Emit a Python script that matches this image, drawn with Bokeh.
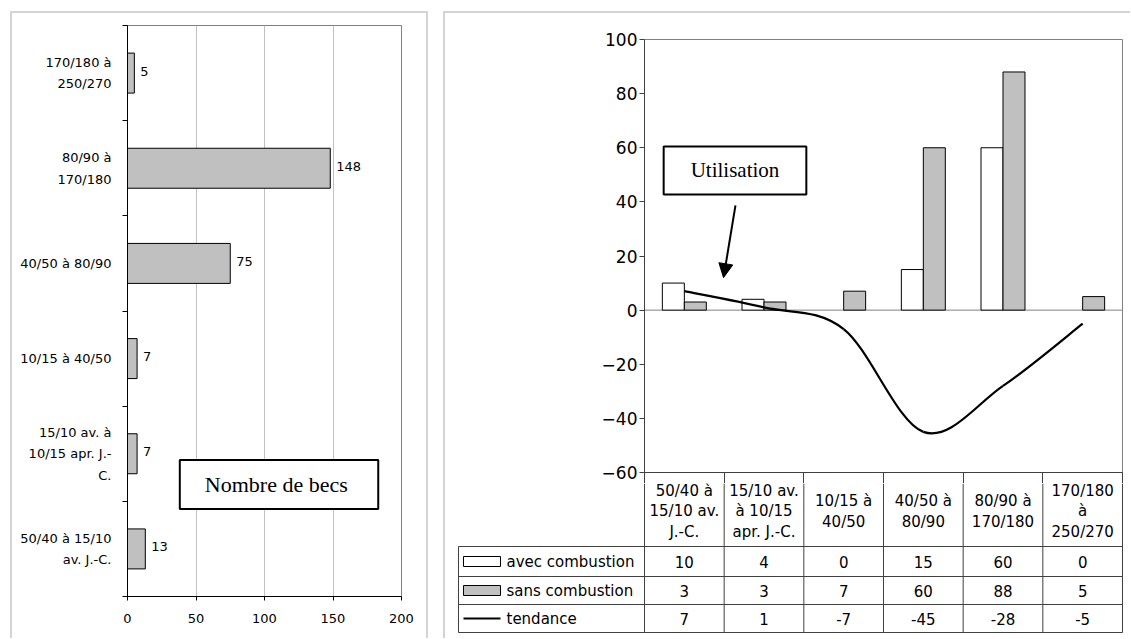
from bokeh.plotting import figure
from bokeh.models import (Range1d, FixedTicker, ColumnDataSource, Label, Arrow,
                          NormalHead, Span, CDSView, BooleanFilter, Div, Spacer)
from bokeh.layouts import row, column
from bokeh.transform import dodge
from bokeh.core.properties import value
from bokeh.embed import file_html
from bokeh.resources import INLINE

# ---------------- data ----------------
periods = ["50/40 à 15/10 av. J.-C.", "15/10 av. à 10/15 apr. J.-C.", "10/15 à 40/50",
           "40/50 à 80/90", "80/90 à 170/180", "170/180 à 250/270"]
left_labels = ["50/40 à 15/10\nav. J.-C.", "15/10 av. à\n10/15 apr. J.-\nC.", "10/15 à 40/50",
               "40/50 à 80/90", "80/90 à\n170/180", "170/180 à\n250/270"]
table_headers = ["50/40 à\n15/10 av.\nJ.-C.", "15/10 av.\nà 10/15\napr. J.-C.", "10/15 à\n40/50",
                 "40/50 à\n80/90", "80/90 à\n170/180", "170/180\nà\n250/270"]
nombre_becs = [13, 7, 7, 75, 148, 5]
avec = [10, 4, 0, 15, 60, 0]
sans = [3, 3, 7, 60, 88, 5]
tendance = [7, 1, -7, -45, -28, -5]
left_ticks = [0, 50, 100, 150, 200]
right_ticks = [-60, -40, -20, 0, 20, 40, 60, 80, 100]
row_names = ["avec combustion", "sans combustion", "tendance"]

SANS = "DejaVu Sans"
SERIF = "Liberation Serif"
GRAYBAR = "#c0c0c0"
PANEL = "#d4d4d4"
LINE = "#404040"

n = len(periods)
pos = [i + 0.5 for i in range(n)]

# ---------------- left panel ----------------
left = figure(width=414, height=625, x_range=Range1d(0, 200), y_range=Range1d(0, n),
              output_backend="svg", toolbar_location=None,
              min_border_left=115, min_border_right=25, min_border_top=12, min_border_bottom=42)
left.background_fill_color = "white"
left.border_fill_color = "white"
left.outline_line_color = "#808080"
left.ygrid.visible = False
left.xgrid.grid_line_color = "#c0c0c0"

lsrc = ColumnDataSource(dict(y=pos, v=nombre_becs, lab=[str(v) for v in nombre_becs]))
left.hbar(y="y", right="v", left=0, height=0.42, source=lsrc,
          fill_color=GRAYBAR, line_color="black", line_width=1)
left.text(x="v", y="y", text="lab", source=lsrc, x_offset=6, y_offset=-2,
          text_baseline="middle", text_align="left", text_font=value(SANS),
          text_font_size="13px", text_color="black")

yax = left.yaxis[0]
yax.ticker = FixedTicker(ticks=pos, minor_ticks=list(range(n + 1)))
yax.major_label_overrides = {p: lab for p, lab in zip(pos, left_labels)}
yax.major_tick_out = 0
yax.major_tick_in = 0
yax.minor_tick_out = 5
yax.minor_tick_in = 0
yax.minor_tick_line_color = "black"
yax.axis_line_color = "black"
yax.major_label_standoff = 11
yax.major_label_text_font = SANS
yax.major_label_text_font_size = "13px"
yax.major_label_text_color = "black"
yax.major_label_text_line_height = 1.45

xax = left.xaxis[0]
xax.ticker = FixedTicker(ticks=left_ticks)
xax.major_tick_out = 4
xax.major_tick_in = 0
xax.minor_tick_line_color = None
xax.axis_line_color = "black"
xax.major_tick_line_color = "black"
xax.major_label_standoff = 13
xax.major_label_text_font = SANS
xax.major_label_text_font_size = "13px"
xax.major_label_text_color = "black"

left.add_layout(Label(x=110.6, y=1.177, text="Nombre  de becs", text_align="center",
                      text_baseline="middle", text_font=SERIF, text_font_size="22px",
                      text_color="black", border_line_color="black", border_line_width=2,
                      background_fill_color="white", padding=(25, 25, 12, 12)))

# ---------------- right panel: chart ----------------
U = 478 / n  # px per category
TICKGAP = 11  # header divider part drawn by the chart's bottom axis (minor) ticks
chart = figure(width=685, height=459 + TICKGAP, x_range=Range1d(0, n), y_range=Range1d(-60, 100),
               output_backend="svg", toolbar_location=None,
               min_border_left=199, min_border_right=8, min_border_top=26,
               min_border_bottom=TICKGAP)
chart.frame_align = False
chart.background_fill_color = "white"
chart.border_fill_color = "white"
chart.outline_line_color = "#808080"
chart.xgrid.visible = False
chart.ygrid.visible = False

cx = chart.xaxis[0]
cx.ticker = FixedTicker(ticks=[], minor_ticks=list(range(n + 1)))
cx.major_tick_out = 0
cx.major_tick_in = 0
cx.minor_tick_out = TICKGAP
cx.minor_tick_in = 0
cx.minor_tick_line_color = LINE
cx.axis_line_color = LINE
cx.major_label_standoff = 0

cy = chart.yaxis[0]
cy.ticker = FixedTicker(ticks=right_ticks)
cy.major_tick_out = 5
cy.major_tick_in = 0
cy.minor_tick_line_color = None
cy.axis_line_color = LINE
cy.major_tick_line_color = LINE
cy.major_label_standoff = 2
cy.major_label_text_font = SANS
cy.major_label_text_font_size = "17px"
cy.major_label_text_color = "black"

chart.add_layout(Span(location=0, dimension="width", line_color="#808080", line_width=1,
                      level="underlay"))

bw = 0.276
csrc = ColumnDataSource(dict(x=pos, avec=avec, sans=sans))
chart.vbar(x=dodge("x", -bw / 2), top="avec", bottom=0, width=bw, source=csrc,
           view=CDSView(filter=BooleanFilter([v != 0 for v in avec])),
           fill_color="white", line_color="black", line_width=1)
chart.vbar(x=dodge("x", bw / 2), top="sans", bottom=0, width=bw, source=csrc,
           view=CDSView(filter=BooleanFilter([v != 0 for v in sans])),
           fill_color=GRAYBAR, line_color="black", line_width=1)

# smoothed trend line (Catmull-Rom bezier through the data points)
pts = list(zip(pos, tendance))
ext = [pts[0]] + pts + [pts[-1]]
bz = dict(x0=[], y0=[], x1=[], y1=[], cx0=[], cy0=[], cx1=[], cy1=[])
for i in range(n - 1):
    p0, p1, p2, p3 = ext[i], ext[i + 1], ext[i + 2], ext[i + 3]
    bz["x0"].append(p1[0]); bz["y0"].append(p1[1])
    bz["x1"].append(p2[0]); bz["y1"].append(p2[1])
    bz["cx0"].append(p1[0] + (p2[0] - p0[0]) / 6); bz["cy0"].append(p1[1] + (p2[1] - p0[1]) / 6)
    bz["cx1"].append(p2[0] - (p3[0] - p1[0]) / 6); bz["cy1"].append(p2[1] - (p3[1] - p1[1]) / 6)
chart.bezier(source=ColumnDataSource(bz), x0="x0", y0="y0", x1="x1", y1="y1",
             cx0="cx0", cy0="cy0", cx1="cx1", cy1="cy1", line_color="black", line_width=2.2)

chart.add_layout(Label(x=1.136, y=51.6, text="Utilisation", text_align="center",
                       text_baseline="middle", text_font=SERIF, text_font_size="21px",
                       text_color="black", border_line_color="black", border_line_width=2,
                       background_fill_color="white", padding=(27, 27, 12, 12)))
chart.add_layout(Arrow(end=NormalHead(size=14, fill_color="black", line_color="black"),
                       x_start=1.142, y_start=38.7, x_end=0.992, y_end=12.0,
                       line_color="black", line_width=2))

# ---------------- right panel: data table ----------------
TH = 155
tbl_left_px = 644 - 456
table = figure(width=685, height=TH, x_range=Range1d(-tbl_left_px / U, n + 2 / U),
               y_range=Range1d(-TH, 0), x_axis_location=None, y_axis_location=None,
               output_backend="svg", toolbar_location=None,
               min_border_left=11, min_border_right=6, min_border_top=0, min_border_bottom=0)
table.frame_align = False
table.outline_line_color = None
table.background_fill_color = "white"
table.border_fill_color = "white"
table.grid.visible = False

legend_left = -(644 - 458) / U
header_bottom, r1, r2, r3 = -63, -93, -121, -149
row_centers = [(header_bottom + r1) / 2, (r1 + r2) / 2, (r2 + r3) / 2]

hy = [header_bottom, r1, r2, r3]
table.segment(x0=[legend_left] * 4, y0=hy, x1=[n] * 4, y1=hy, line_color=LINE, line_width=1)
vx = list(range(n + 1))
table.segment(x0=vx, y0=[0] * (n + 1), x1=vx, y1=[r3] * (n + 1), line_color=LINE, line_width=1)
table.segment(x0=[legend_left], y0=[header_bottom], x1=[legend_left], y1=[r3],
              line_color=LINE, line_width=1)

TF = "15px"
table.text(x=pos, y=[-28] * n, text=table_headers, text_align="center",
           text_baseline="middle", text_font=value(SANS), text_font_size=TF,
           text_line_height=1.15, text_color="black")
for series, yc in zip([avec, sans, tendance], row_centers):
    table.text(x=pos, y=[yc] * n, text=[str(v) for v in series], text_align="center",
               text_baseline="middle", text_font=value(SANS), text_font_size=TF,
               text_color="black")

key_l = legend_left + 5 / U
key_r = legend_left + 42 / U
table.rect(x=[(key_l + key_r) / 2] * 2, y=row_centers[:2], width=37, height=10,
           width_units="screen", height_units="screen",
           fill_color=["white", GRAYBAR], line_color="black", line_width=1)
table.segment(x0=[key_l], y0=[row_centers[2]], x1=[key_r], y1=[row_centers[2]],
              line_color="black", line_width=2)
table.text(x=[legend_left + 48 / U] * 3, y=row_centers, text=row_names, text_align="left",
           text_baseline="middle", text_font=value(SANS), text_font_size=TF, text_color="black")


# ---------------- page layout with panel borders ----------------
def vline(h):
    return Div(width=2, height=h, margin=(0, 0, 0, 0), styles={"background-color": PANEL})


def hline(w):
    return Div(width=w, height=2, margin=(0, 0, 0, 0), styles={"background-color": PANEL})


left_panel = row(vline(627), column(hline(414), left, spacing=0), vline(627), spacing=0)
right_panel = row(vline(627), column(hline(685), chart, table, spacing=0), spacing=0)
layout = row(left_panel, Spacer(width=15, height=1), right_panel, spacing=0,
             margin=(11, 0, 0, 10))

open("out.html", "w").write(file_html(layout, INLINE))
